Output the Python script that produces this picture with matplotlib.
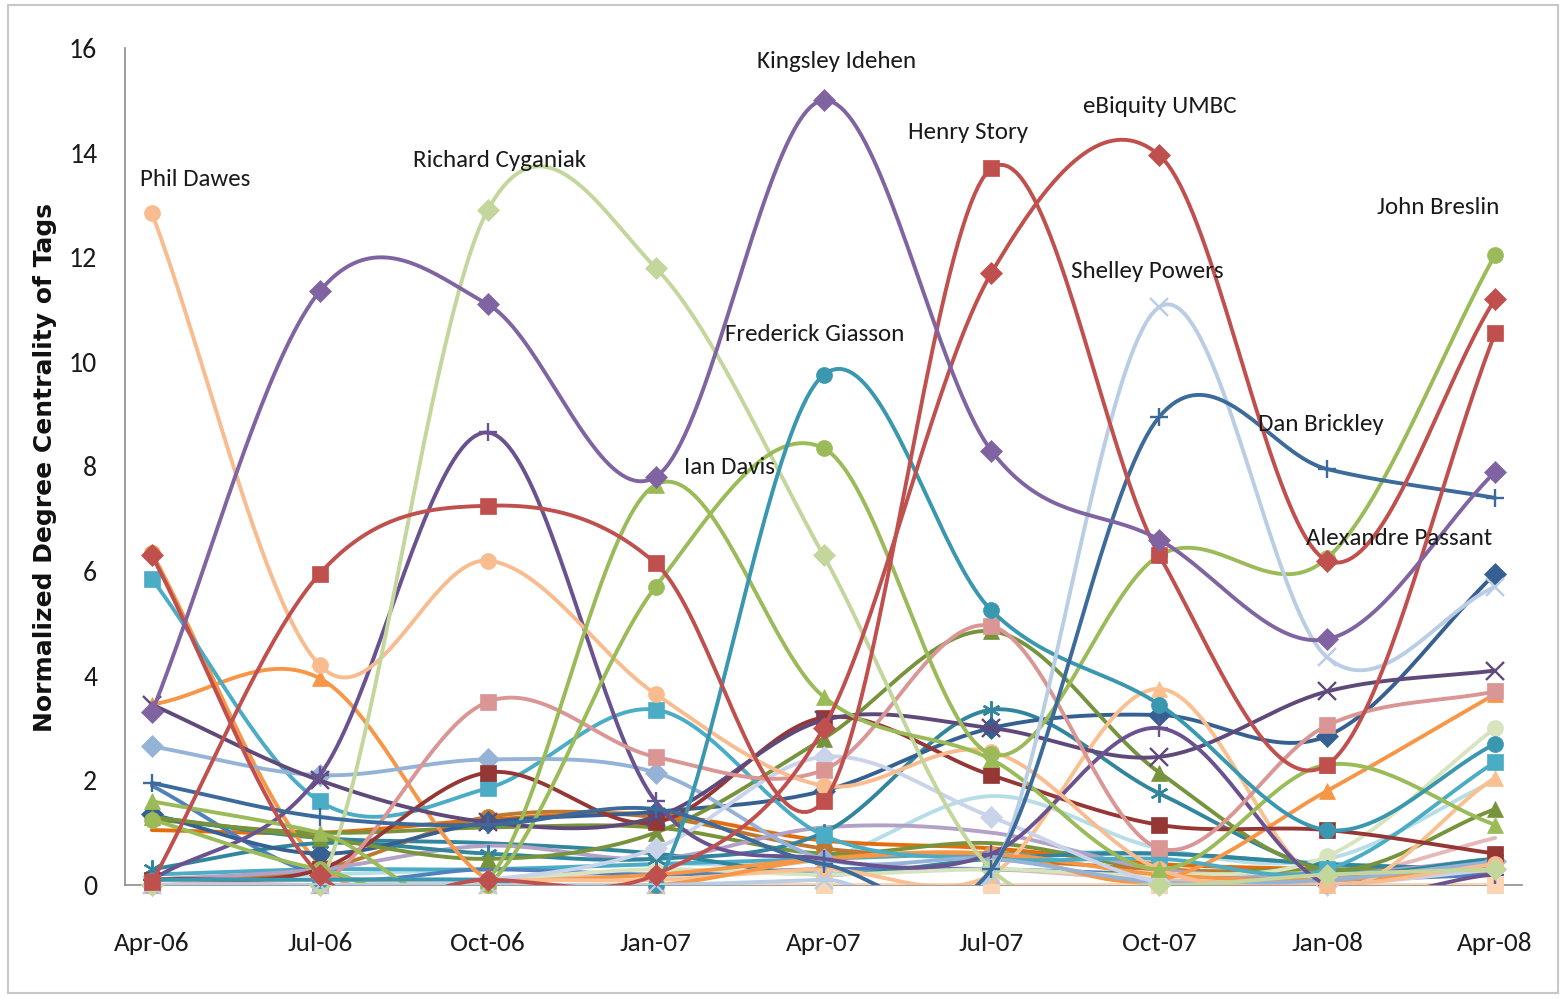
import numpy as np
import matplotlib
matplotlib.use("Agg")
import matplotlib.pyplot as plt
from matplotlib.patches import Rectangle

# ---------------- data ----------------
quarters = ["Apr-06", "Jul-06", "Oct-06", "Jan-07", "Apr-07", "Jul-07", "Oct-07", "Jan-08", "Apr-08"]

# background / low-level series (drawn first)
pale_zero_a = [0, 0, 0, 0, 0, 0, 0, 0, 0]
pale_zero_b = [0, 0, 0, 0, 0, 0, 0, 0, 0]
pale_pink = [0.0, 0.1, 0.1, 0.2, 0.3, 0.3, 0.1, 0.1, 0.9]
pale_aqua = [0.1, 0.2, 0.3, 0.4, 0.5, 1.7, 0.7, 0.5, 2.0]
aqua_low = [0.2, 0.3, 0.3, 0.4, 0.5, 0.6, 0.6, 0.4, 0.3]
orange_flat = [1.05, 1.0, 1.25, 1.35, 0.85, 0.7, 0.4, 0.3, 0.2]
blue_low = [1.9, 0.2, 0.3, 0.2, 0.3, 0.3, 0.2, 0.1, 0.2]
dkgreen_low = [1.25, 1.0, 1.1, 1.1, 0.6, 0.8, 0.3, 0.3, 0.3]
dkteal_low = [1.3, 0.9, 0.8, 0.6, 0.2, 0.5, 0.6, 0.4, 0.3]
brown_low = [0.1, 0.3, 1.3, 1.3, 0.7, 0.5, 0.3, 0.2, 0.3]
light_purple = [0.1, 0.3, 0.75, 0.5, 1.1, 1.0, 0.3, 0.2, 0.5]
light_green_c = [0.0, 0.0, 0.1, 0.3, 0.2, 0.3, 0.2, 0.55, 3.0]
orange_circle = [6.35, 0.4, 0.1, 0.2, 0.5, 0.6, 0.2, 0.1, 0.3]
dark_teal_star = [0.3, 0.8, 0.6, 0.5, 1.0, 3.35, 1.75, 0.3, 0.5]
dark_blue_d = [1.35, 0.6, 1.2, 1.4, 1.8, 3.0, 3.25, 2.85, 5.95]
dark_olive = [1.3, 0.9, 0.5, 1.0, 2.8, 4.85, 2.15, 0.3, 1.45]
peach_tri = [0.1, 0.1, 0.1, 0.1, 0.3, 0.2, 3.75, 0.0, 2.05]
orange_tri = [3.45, 3.95, 0.1, 0.0, 0.5, 0.6, 0.1, 1.8, 3.65]
aqua_sq = [5.85, 1.6, 1.85, 3.35, 0.95, 0.5, 0.5, 0.3, 2.35]
pale_blue_d = [2.65, 2.1, 2.4, 2.15, 0.5, 0.5, 0.05, 0.1, 0.45]
lavender_d = [0.0, 0.0, 0.1, 0.7, 2.45, 1.3, 0.05, 0.0, 0.3]
dark_red_sq = [0.1, 0.3, 2.15, 1.2, 3.2, 2.1, 1.15, 1.05, 0.6]
dark_purple_x = [3.45, 2.0, 1.2, 1.3, 3.15, 3.0, 2.45, 3.7, 4.1]
purple_plus = [0.1, 2.1, 8.65, 1.6, 0.5, 0.6, 3.0, 0.0, 0.2]
pink_sq = [0.0, 0.0, 3.5, 2.45, 2.2, 4.95, 0.7, 3.05, 3.7]

# named (labelled) series
phil_dawes = [12.85, 4.2, 6.2, 3.65, 1.9, 2.55, 0.3, 0.0, 0.4]
richard_cyganiak = [0.0, 0.0, 12.9, 11.8, 6.3, 0.3, 0.0, 0.2, 0.3]
ian_davis = [1.6, 1.0, 0.1, 7.65, 3.6, 2.4, 0.3, 2.3, 1.15]
john_breslin = [1.25, 0.3, 0.0, 5.7, 8.35, 2.5, 6.3, 6.25, 12.05]
frederick_giasson = [0.1, 0.1, 0.1, 0.0, 9.75, 5.25, 3.45, 1.05, 2.7]
shelley_powers = [0.0, 0.0, 0.0, 0.0, 0.1, 0.2, 11.05, 4.35, 5.7]
dan_brickley = [1.95, 1.3, 1.15, 1.45, 0.4, 0.3, 8.95, 7.95, 7.4]
ebiquity_umbc = [6.3, 0.2, 0.1, 0.2, 3.0, 11.7, 13.95, 6.2, 11.2]
henry_story = [0.05, 5.95, 7.25, 6.15, 1.6, 13.7, 6.3, 2.3, 10.55]
kingsley_idehen = [3.3, 11.35, 11.1, 7.8, 15.0, 8.3, 6.6, 4.7, 7.9]

label_names = ["Phil Dawes", "Richard Cyganiak", "Kingsley Idehen", "Henry Story",
               "eBiquity UMBC", "John Breslin", "Shelley Powers", "Frederick Giasson",
               "Ian Davis", "Dan Brickley", "Alexandre Passant"]
label_x = [0.26, 2.07, 4.08, 4.86, 6.0, 7.66, 5.93, 3.95, 3.44, 6.96, 7.43]
label_y = [13.48, 13.84, 15.74, 14.38, 14.88, 12.96, 11.72, 10.52, 7.99, 8.8, 6.63]

ASTER = (6, 2, 0)
series = [
    (pale_zero_a, "#DDD9C3", "s"),
    (pale_zero_b, "#FCD5B5", "s"),
    (pale_pink, "#E6B9B8", None),
    (pale_aqua, "#B7DEE8", None),
    (aqua_low, "#4BACC6", None),
    (orange_flat, "#E46C0A", None),
    (blue_low, "#4F81BD", None),
    (dkgreen_low, "#77933C", None),
    (dkteal_low, "#31859C", None),
    (brown_low, "#C0782E", "o"),
    (light_purple, "#B3A2C7", None),
    (light_green_c, "#D7E4BD", "o"),
    (orange_circle, "#F79646", "o"),
    (dark_teal_star, "#31859C", ASTER),
    (dark_blue_d, "#366092", "D"),
    (dark_olive, "#77933C", "^"),
    (peach_tri, "#FAC090", "^"),
    (orange_tri, "#F79646", "^"),
    (aqua_sq, "#4BACC6", "s"),
    (pale_blue_d, "#95B3D7", "D"),
    (lavender_d, "#C9D3EA", "D"),
    (dark_red_sq, "#953735", "s"),
    (dark_purple_x, "#5F497A", "x"),
    (purple_plus, "#6A5290", "+"),
    (pink_sq, "#D99694", "s"),
    (phil_dawes, "#F8BC8F", "o"),
    (richard_cyganiak, "#C3D69B", "D"),
    (ian_davis, "#9BBB59", "^"),
    (john_breslin, "#9BBB59", "o"),
    (frederick_giasson, "#3A97B0", "o"),
    (shelley_powers, "#B9CDE5", "x"),
    (dan_brickley, "#3C6A9A", "+"),
    (ebiquity_umbc, "#C0504D", "D"),
    (henry_story, "#C0504D", "s"),
    (kingsley_idehen, "#8064A2", "D"),
]


def smooth(vals, n=40):
    y = np.asarray(vals, float)
    x = np.arange(len(y), dtype=float)
    m = np.empty_like(y)
    m[1:-1] = (y[2:] - y[:-2]) / 2.0
    m[0] = y[1] - y[0]
    m[-1] = y[-1] - y[-2]
    xs, ys = [], []
    t = np.linspace(0, 1, n, endpoint=False)
    h00 = 2 * t**3 - 3 * t**2 + 1
    h10 = t**3 - 2 * t**2 + t
    h01 = -2 * t**3 + 3 * t**2
    h11 = t**3 - t**2
    for i in range(len(y) - 1):
        xs.append(x[i] + t)
        ys.append(h00 * y[i] + h10 * m[i] + h01 * y[i + 1] + h11 * m[i + 1])
    xs.append([x[-1]])
    ys.append([y[-1]])
    return np.concatenate(xs), np.concatenate(ys)


narrow = ["Carlito", "Liberation Sans", "DejaVu Sans"]

fig = plt.figure(figsize=(15.66, 9.98), dpi=100)
ax = fig.add_axes([125 / 1566, 1 - 885 / 998, (1522 - 125) / 1566, (885 - 48) / 998])

xpos = np.arange(len(quarters))
for k, (vals, col, mk) in enumerate(series):
    sx, sy = smooth(vals)
    ax.plot(sx, sy, color=col, lw=2.8, zorder=2 + k * 0.01, solid_capstyle="round")
    if mk is not None:
        if mk in ("x", "+", ASTER):
            ax.plot(xpos, vals, linestyle="none", marker=mk, ms=13, mec=col, mew=1.7,
                    color=col, zorder=2.005 + k * 0.01, clip_on=False)
        else:
            ms = {"D": 11.5, "s": 11, "o": 11.5, "^": 11.5}[mk]
            ax.plot(xpos, vals, linestyle="none", marker=mk, ms=ms, mfc=col, mec=col,
                    mew=0.5, zorder=2.005 + k * 0.01, clip_on=False)

for name, lx, ly in zip(label_names, label_x, label_y):
    ax.text(lx, ly, name, ha="center", va="center", fontsize=18, family=narrow,
            color="#1a1a1a", zorder=10)

ax.set_xlim(-0.16, 8.16)
ax.set_ylim(0, 16)
ax.set_xticks(xpos)
ax.set_xticklabels(quarters, family=narrow, fontsize=19.5, color="#1a1a1a")
ax.set_yticks(np.arange(0, 17, 2))
ax.set_yticklabels([str(v) for v in range(0, 17, 2)], family=narrow, fontsize=20,
                   color="#1a1a1a")
ax.tick_params(axis="both", length=0)
ax.tick_params(axis="x", pad=34)
ax.tick_params(axis="y", pad=20)
for s in ("top", "right"):
    ax.spines[s].set_visible(False)
for s in ("left", "bottom"):
    ax.spines[s].set_color("#8C8C8C")
    ax.spines[s].set_linewidth(1.2)
    ax.spines[s].set_zorder(1)

fig.text(45 / 1566, 1 - 468 / 998, "Normalized Degree Centrality of Tags", rotation=90,
         ha="center", va="center", fontsize=18, fontweight="bold", family="DejaVu Sans",
         color="#111111")

fig.patches.append(Rectangle((8 / 1566, 5 / 998), 1550 / 1566, 988 / 998,
                             transform=fig.transFigure, fill=False,
                             edgecolor="#C8C8C8", lw=1.5))

fig.savefig("out.png", dpi=100, facecolor="white")
